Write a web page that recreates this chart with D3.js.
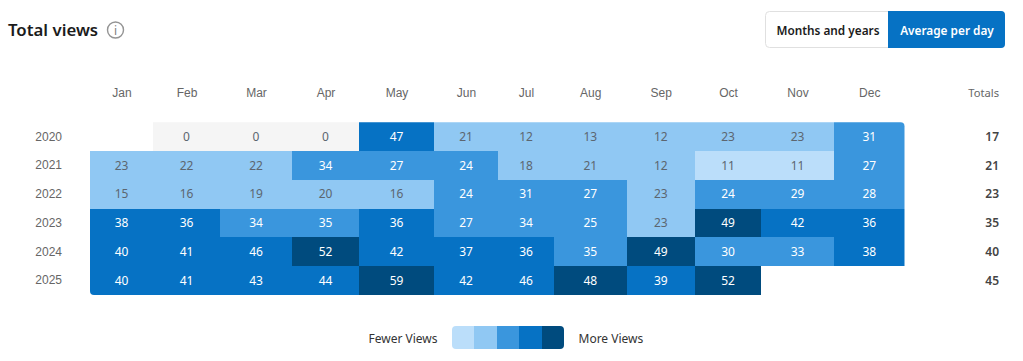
<!DOCTYPE html>
<html>
<head>
<meta charset="utf-8">
<script src="https://cdn.jsdelivr.net/npm/d3@7"></script>
<style>
  html, body { margin: 0; padding: 0; background: #fff; }
  svg { display: block; font-family: "Noto Sans", sans-serif; }
  .domain { display: none; }
</style>
</head>
<body>
<div id="frame"></div>
<script>
const months = ["Jan", "Feb", "Mar", "Apr", "May", "Jun", "Jul", "Aug", "Sep", "Oct", "Nov", "Dec"];
const years = ["2020", "2021", "2022", "2023", "2024", "2025"];
const views2020 = [null, 0, 0, 0, 47, 21, 12, 13, 12, 23, 23, 31];
const views2021 = [23, 22, 22, 34, 27, 24, 18, 21, 12, 11, 11, 27];
const views2022 = [15, 16, 19, 20, 16, 24, 31, 27, 23, 24, 29, 28];
const views2023 = [38, 36, 34, 35, 36, 27, 34, 25, 23, 49, 42, 36];
const views2024 = [40, 41, 46, 52, 42, 37, 36, 35, 49, 30, 33, 38];
const views2025 = [40, 41, 43, 44, 59, 42, 46, 48, 39, 52, null, null];
const totals = [17, 21, 23, 35, 40, 45];
const thresholds = [1, 12, 24, 36, 48];

// the table columns are not equal, edges measured off the picture
const colEdges = [90, 153, 220, 292, 359, 434, 498, 554, 626.5, 695, 761, 834, 904.5];
const colors = ["#f5f5f5", "#bbdefa", "#90c8f3", "#3a96dd", "#0672c4", "#004b7e"];
const width = 1023, height = 361;
const fontSize = 12;

const svg = d3.select("#frame").append("svg").attr("width", width).attr("height", height);

const x0 = d3.scaleOrdinal(months, colEdges.slice(0, 12));
const x1 = d3.scaleOrdinal(months, colEdges.slice(1));
const xMid = d3.scaleOrdinal(months, months.map((m) => (x0(m) + x1(m)) / 2));
const y = d3.scaleBand(years, [122.3, 295]);
const color = d3.scaleThreshold(thresholds, colors);

const rows = [views2020, views2021, views2022, views2023, views2024, views2025];
const cells = [];
rows.forEach((row, i) => {
  row.forEach((v, j) => {
    if (v !== null) cells.push({ year: years[i], month: months[j], value: v });
  });
});

// title + info icon
svg.append("text").attr("x", 8).attr("y", 36).attr("font-size", 16.8).attr("font-weight", 600)
  .attr("fill", "#1b1b1b").text("Total views");
svg.append("circle").attr("cx", 115.5).attr("cy", 30).attr("r", 8)
  .attr("fill", "none").attr("stroke", "#949494").attr("stroke-width", 1.4);
svg.append("text").attr("x", 115.5).attr("y", 34.5).attr("text-anchor", "middle")
  .attr("font-size", 12).attr("fill", "#808080").text("i");

// toggle buttons
svg.append("rect").attr("x", 765.5).attr("y", 11.5).attr("width", 239).attr("height", 36).attr("rx", 4)
  .attr("fill", "#fff").attr("stroke", "#e0e0e0");
svg.append("path").attr("d", "M888,11H1001a4,4 0 0 1 4,4V44a4,4 0 0 1 -4,4H888Z").attr("fill", "#0672c4");
svg.append("text").attr("x", 828).attr("y", 35).attr("text-anchor", "middle").attr("font-size", 11.8)
  .attr("font-weight", 600).attr("fill", "#1b1b1b").text("Months and years");
svg.append("text").attr("x", 947).attr("y", 35).attr("text-anchor", "middle").attr("font-size", 11.8)
  .attr("font-weight", 600).attr("fill", "#fff").text("Average per day");

// axes
const monthAxis = svg.append("g").attr("transform", "translate(0,97)")
  .call(d3.axisTop(xMid).tickSize(0).tickPadding(0));
monthAxis.selectAll("text").attr("font-size", fontSize).attr("font-family", "inherit").attr("fill", "#666");
const yearAxis = svg.append("g").attr("transform", "translate(62,0)")
  .call(d3.axisLeft(y).tickSize(0).tickPadding(0));
yearAxis.selectAll("text").attr("font-size", fontSize).attr("font-family", "inherit").attr("fill", "#666");

svg.append("text").attr("x", 999).attr("y", 97).attr("text-anchor", "end").attr("font-size", 11.2)
  .attr("fill", "#666").text("Totals");

// cells
const defs = svg.append("defs");
defs.append("clipPath").attr("id", "grid-clip").append("rect")
  .attr("x", colEdges[0]).attr("y", y.range()[0])
  .attr("width", colEdges[12] - colEdges[0]).attr("height", y.range()[1] - y.range()[0]).attr("rx", 4);

const grid = svg.append("g").attr("clip-path", "url(#grid-clip)");
grid.selectAll("rect").data(cells).join("rect")
  .attr("x", (d) => x0(d.month))
  .attr("y", (d) => y(d.year))
  .attr("width", (d) => x1(d.month) - x0(d.month))
  .attr("height", y.bandwidth())
  .attr("shape-rendering", "crispEdges")
  .attr("fill", (d) => color(d.value));

svg.append("g").selectAll("text").data(cells).join("text")
  .attr("x", (d) => xMid(d.month))
  .attr("y", (d) => y(d.year) + y.bandwidth() / 2)
  .attr("dy", "0.35em")
  .attr("text-anchor", "middle")
  .attr("font-size", fontSize)
  .attr("fill", (d) => (d.value < thresholds[2] ? "#5c6670" : "#fff"))
  .text((d) => d.value);

// totals column
svg.append("g").selectAll("text").data(totals).join("text")
  .attr("x", 999)
  .attr("y", (d, i) => y(years[i]) + y.bandwidth() / 2)
  .attr("dy", "0.35em")
  .attr("text-anchor", "end")
  .attr("font-size", fontSize)
  .attr("font-weight", 600)
  .attr("fill", "#444")
  .text((d) => d);

// legend
const legendColors = colors.slice(1);
const lx = d3.scaleBand(legendColors, [452, 564]);
defs.append("clipPath").attr("id", "legend-clip").append("rect")
  .attr("x", 452).attr("y", 326).attr("width", 112).attr("height", 23).attr("rx", 4);
svg.append("g").attr("clip-path", "url(#legend-clip)")
  .selectAll("rect").data(legendColors).join("rect")
  .attr("x", (d) => lx(d)).attr("y", 326).attr("width", lx.bandwidth()).attr("height", 23)
  .attr("shape-rendering", "crispEdges")
  .attr("fill", (d) => d);
svg.append("text").attr("x", 437.5).attr("y", 342.5).attr("text-anchor", "end").attr("font-size", fontSize)
  .attr("fill", "#333").text("Fewer Views");
svg.append("text").attr("x", 578.5).attr("y", 342.5).attr("font-size", fontSize)
  .attr("fill", "#333").text("More Views");
</script>
</body>
</html>
